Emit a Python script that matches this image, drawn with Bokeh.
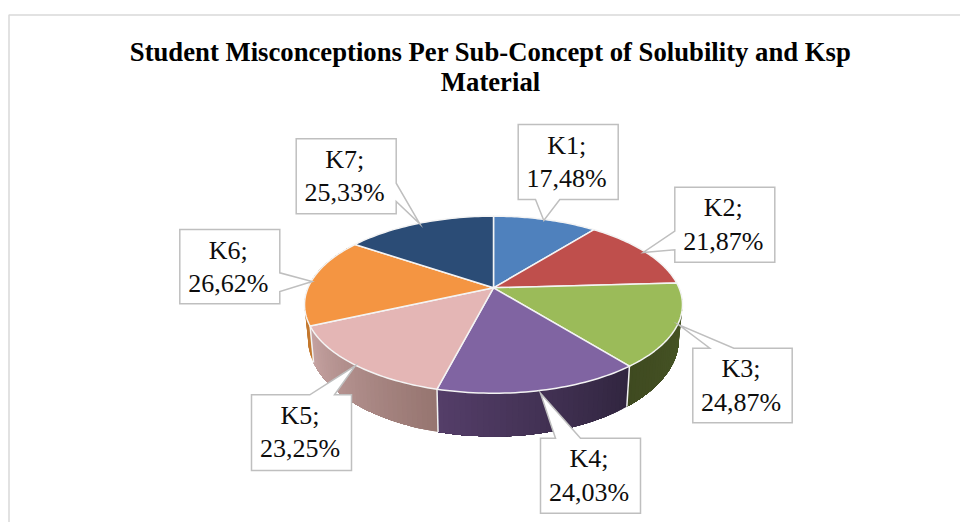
import math
from bokeh.plotting import figure
from bokeh.models import Range1d
from bokeh.core.properties import value
from bokeh.embed import file_html
from bokeh.resources import INLINE

title_lines = ["Student Misconceptions Per Sub-Concept of Solubility and Ksp", "Material"]
categories = ["K1", "K2", "K3", "K4", "K5", "K6", "K7"]
values = [17.48, 21.87, 24.87, 24.03, 23.25, 26.62, 25.33]
top_colors = ["#4F81BD", "#BF4F4C", "#9BBB59", "#8064A2", "#E4B6B5", "#F49542", "#2B4C76"]
side_left = ["#2F4D71", "#733030", "#3F4A20", "#553E69", "#C6A3A2", "#C4792F", "#1A2D46"]
side_right = ["#2F4D71", "#733030", "#4A5A28", "#30253F", "#967570", "#C4792F", "#1A2D46"]

W, H = 960, 522
p = figure(width=W, height=H, output_backend="svg", toolbar_location=None,
           x_range=Range1d(0, W), y_range=Range1d(H, 0),
           min_border=0, outline_line_color=None, background_fill_color="white")
p.axis.visible = False
p.grid.visible = False

# Perspective pie projection (screen px)
CX, AY, A, B, K = 493.0, 287.3, 185.5, 85.3, 0.191
AY2, A2, B2 = 319.9, 182.0, 93.9


def top_pt(t):
    w = 1 + K * math.cos(t)
    return CX + A * math.sin(t) / w, AY - B * math.cos(t) / w


def bot_pt(t):
    w = 1 + K * math.cos(t)
    return CX + A2 * math.sin(t) / w, AY2 - B2 * math.cos(t) / w


def mix(c1, c2, f):
    a = [int(c1[i:i + 2], 16) for i in (1, 3, 5)]
    b = [int(c2[i:i + 2], 16) for i in (1, 3, 5)]
    return "#%02x%02x%02x" % tuple(round(u + (v - u) * f) for u, v in zip(a, b))


total = sum(values)
edges = [0.0]
for v in values:
    edges.append(edges[-1] + v / total * 2 * math.pi)

# side wall of the front facing slices (K3..K6); each shaded strip runs on to the
# slice's end and the next strip is painted over it, so no seams can show
sx, sy, sc = [], [], []
for i in range(2, 6):
    t0, t1 = edges[i], edges[i + 1]
    n = 36
    for j in range(n):
        tt = [t0 + (t1 - t0) * m / n for m in range(j, n + 1)]
        up = [top_pt(a) for a in tt]
        dn = [bot_pt(a) for a in reversed(tt)]
        sx.append([q[0] for q in up + dn])
        sy.append([q[1] for q in up + dn])
        sc.append(mix(side_right[i], side_left[i], (j + 0.5) / n))
p.patches(sx, sy, fill_color=sc, line_color=None)

# white separators down the wall
wx, wy = [], []
for i in (3, 4, 5):
    a, b = top_pt(edges[i]), bot_pt(edges[i])
    wx.append([a[0], b[0]])
    wy.append([a[1], b[1]])
p.multi_line(wx, wy, line_color="#F2F2F2", line_width=1.5)

# top face
tx, ty = [], []
for i in range(len(values)):
    n = 40
    pts = [top_pt(edges[i] + (edges[i + 1] - edges[i]) * j / n) for j in range(n + 1)]
    tx.append([CX] + [q[0] for q in pts])
    ty.append([AY] + [q[1] for q in pts])
p.patches(tx, ty, fill_color=top_colors, line_color="#F4F4F4", line_width=1.5, line_join="round")

# frame of the chart area
p.line([8.5, 8.5, W], [H, 14.5, 14.5], line_color="#D9D9D9", line_width=1.5)

# callouts: box left, top, right, bottom, then the pointer polygon inserted on its side
boxes = {
    "K1": (517.7, 124.0, 617.7, 199.0, "b", (559.3, 199.0), (543.3, 220.0), (535.0, 199.0)),
    "K2": (674.3, 186.7, 774.3, 261.7, "l", (674.3, 249.3), (642.7, 252.0), (674.3, 230.7)),
    "K3": (692.3, 347.7, 791.7, 422.3, "t", (709.3, 347.7), (678.3, 324.3), (733.3, 347.7)),
    "K4": (540.0, 437.7, 640.0, 512.7, "t", (555.0, 437.7), (540.0, 392.7), (580.0, 437.7)),
    "K5": (251.0, 394.3, 351.0, 470.0, "t", (309.3, 394.3), (355.0, 365.0), (334.0, 394.3)),
    "K6": (179.3, 229.0, 279.3, 303.3, "r", (279.3, 272.3), (311.7, 281.0), (279.3, 291.0)),
    "K7": (295.7, 138.3, 395.7, 213.3, "r", (395.7, 182.7), (419.3, 223.3), (395.7, 201.0)),
}
cx, cy = [], []
lx, ly, lt = [], [], []
for name, v in zip(categories, values):
    l, t, r, b, side, p1, tip, p2 = boxes[name]
    ptr = [p1, tip, p2]
    if side == "t":
        pts = [(l, t)] + ptr + [(r, t), (r, b), (l, b)]
    elif side == "r":
        pts = [(l, t), (r, t)] + ptr + [(r, b), (l, b)]
    elif side == "b":
        pts = [(l, t), (r, t), (r, b)] + ptr + [(l, b)]
    else:
        pts = [(l, t), (r, t), (r, b), (l, b)] + ptr
    cx.append([q[0] for q in pts])
    cy.append([q[1] for q in pts])
    mid = (l + r) / 2 - 1.5
    lx += [mid, mid]
    ly += [t + 20.5, t + 54]
    lt += [name + ";", f"{v:.2f}".replace(".", ",") + "%"]
p.patches(cx, cy, fill_color="white", line_color="#BFBFBF", line_width=1.5, line_join="miter")
p.text(lx, ly, text=lt, text_font=value("Liberation Serif"), text_font_size="26px",
       text_align="center", text_baseline="middle", text_color="#0D0D0D")

p.text([490, 490], [51, 81], text=title_lines, text_font=value("Liberation Serif"),
       text_font_size="26.7px", text_font_style="bold", text_align="center",
       text_baseline="middle", text_color="#000000")

open("out.html", "w").write(file_html(p, INLINE))
